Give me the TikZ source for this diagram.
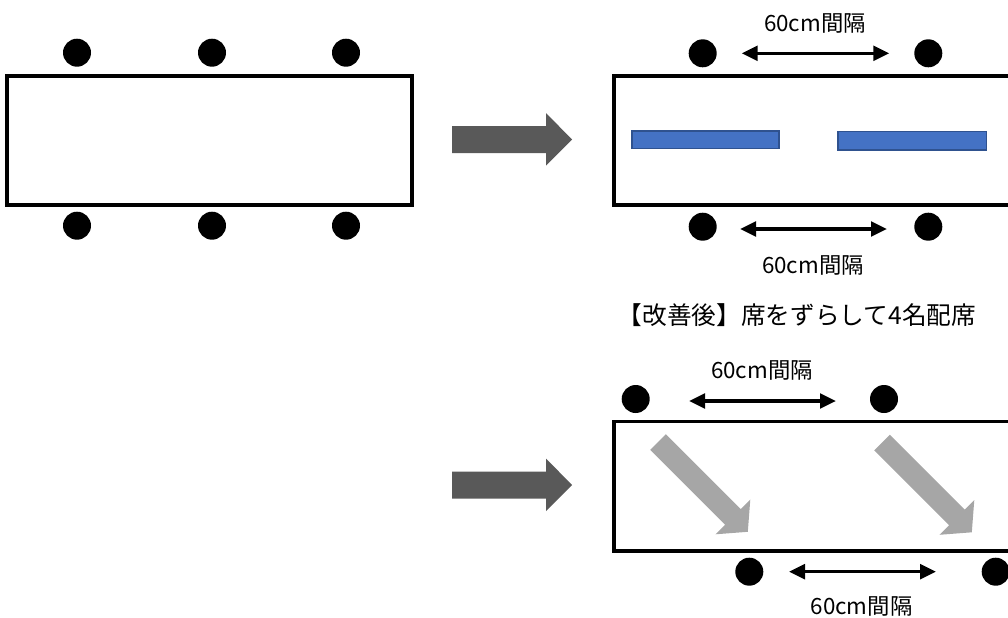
\documentclass[tikz,border=0pt]{standalone}
\usepackage{fontspec}
\setmainfont{Noto Sans CJK JP}
\usetikzlibrary{arrows.meta}

\begin{document}
\begin{tikzpicture}[x=0.75pt,y=0.75pt,yscale=-1,
  seat/.style={circle, fill=black, inner sep=0pt, minimum size=21pt},
  tablebox/.style={line width=2.6pt},
  gaparrow/.style={{Triangle[length=12pt,width=11pt]}-{Triangle[length=12pt,width=11pt]}, line width=2.5pt},
  desk/.style={fill={rgb, 255:red, 68; green, 114; blue, 196 }, draw={rgb, 255:red, 47; green, 82; blue, 143 }, line width=0.8pt},
  bigarrow/.style={fill={rgb, 255:red, 89; green, 89; blue, 89 }},
  slidearrow/.style={fill={rgb, 255:red, 166; green, 166; blue, 166 }},
  gaptext/.style={font=\fontsize{16.8}{20}\selectfont},
  titletext/.style={font=\fontsize{18.5}{22}\selectfont}
]
\useasboundingbox (0,0) rectangle (1008,618);
\clip (0,0) rectangle (1008,618);

%Shape: Rectangle (before)
\draw[tablebox] (7,76) rectangle (412,205);
%Shape: Rectangle (after, desks)
\draw[tablebox] (614,76) rectangle (1030,205);
%Shape: Rectangle (after, shifted)
\draw[tablebox] (614,421.5) rectangle (1030,551);

%Shape: Desks
\draw[desk] (632,131) rectangle (779,148.5);
\draw[desk] (838,131.5) rectangle (986.5,150);

%Shape: Right Arrows
\foreach \cy in {139.5,485}
  \fill[bigarrow] (452,\cy-13.5) -- (546,\cy-13.5) -- (546,\cy-26.5) -- (572,\cy) -- (546,\cy+26) -- (546,\cy+13.5) -- (452,\cy+13.5) -- cycle;

%Shape: Slanted Arrows
\foreach \sx/\sy in {658/442,882/442.5}
  \fill[slidearrow, shift={(\sx,\sy)}, rotate=45] (0,-11) -- (106,-11) -- (106,-24.5) -- (127,0) -- (106,24.5) -- (106,11) -- (0,11) -- cycle;

%Shape: Seats
\node[seat] (s1) at (77,52.7) {};
\node[seat] (s2) at (212,52.7) {};
\node[seat] (s3) at (346,52.7) {};
\node[seat] (s4) at (77,225.7) {};
\node[seat] (s5) at (212,225.7) {};
\node[seat] (s6) at (346,225.7) {};

\node[seat] (a1) at (702.7,53.3) {};
\node[seat] (a2) at (928.3,53.3) {};
\node[seat] (a3) at (702.7,226.7) {};
\node[seat] (a4) at (928.3,226.7) {};

\node[seat] (b1) at (635.7,399) {};
\node[seat] (b2) at (884,399) {};
\node[seat] (b3) at (749.3,571.7) {};
\node[seat] (b4) at (995.7,571.7) {};

%Shape: Spacing Arrows
\coordinate (ga1) at (741.7,53.3);
\coordinate (ga2) at (889.3,53.3);
\coordinate (ga3) at (740,229);
\coordinate (ga4) at (887,229);
\coordinate (gb1) at (689,401);
\coordinate (gb2) at (836,401);
\coordinate (gb3) at (789,571.7);
\coordinate (gb4) at (936,571.7);
\draw[gaparrow] (ga1) -- (ga2);
\draw[gaparrow] (ga3) -- (ga4);
\draw[gaparrow] (gb1) -- (gb2);
\draw[gaparrow] (gb3) -- (gb4);

% Text Node
\node[gaptext] (t1) at (815,23) {60cm間隔};
% Text Node
\node[gaptext] (t2) at (813,265) {60cm間隔};
% Text Node
\node[titletext] (t3) at (797,315) {【改善後】席をずらして4名配席};
% Text Node
\node[gaptext] (t4) at (762,370) {60cm間隔};
% Text Node
\node[gaptext] (t5) at (861.5,606) {60cm間隔};
\end{tikzpicture}
\end{document}
